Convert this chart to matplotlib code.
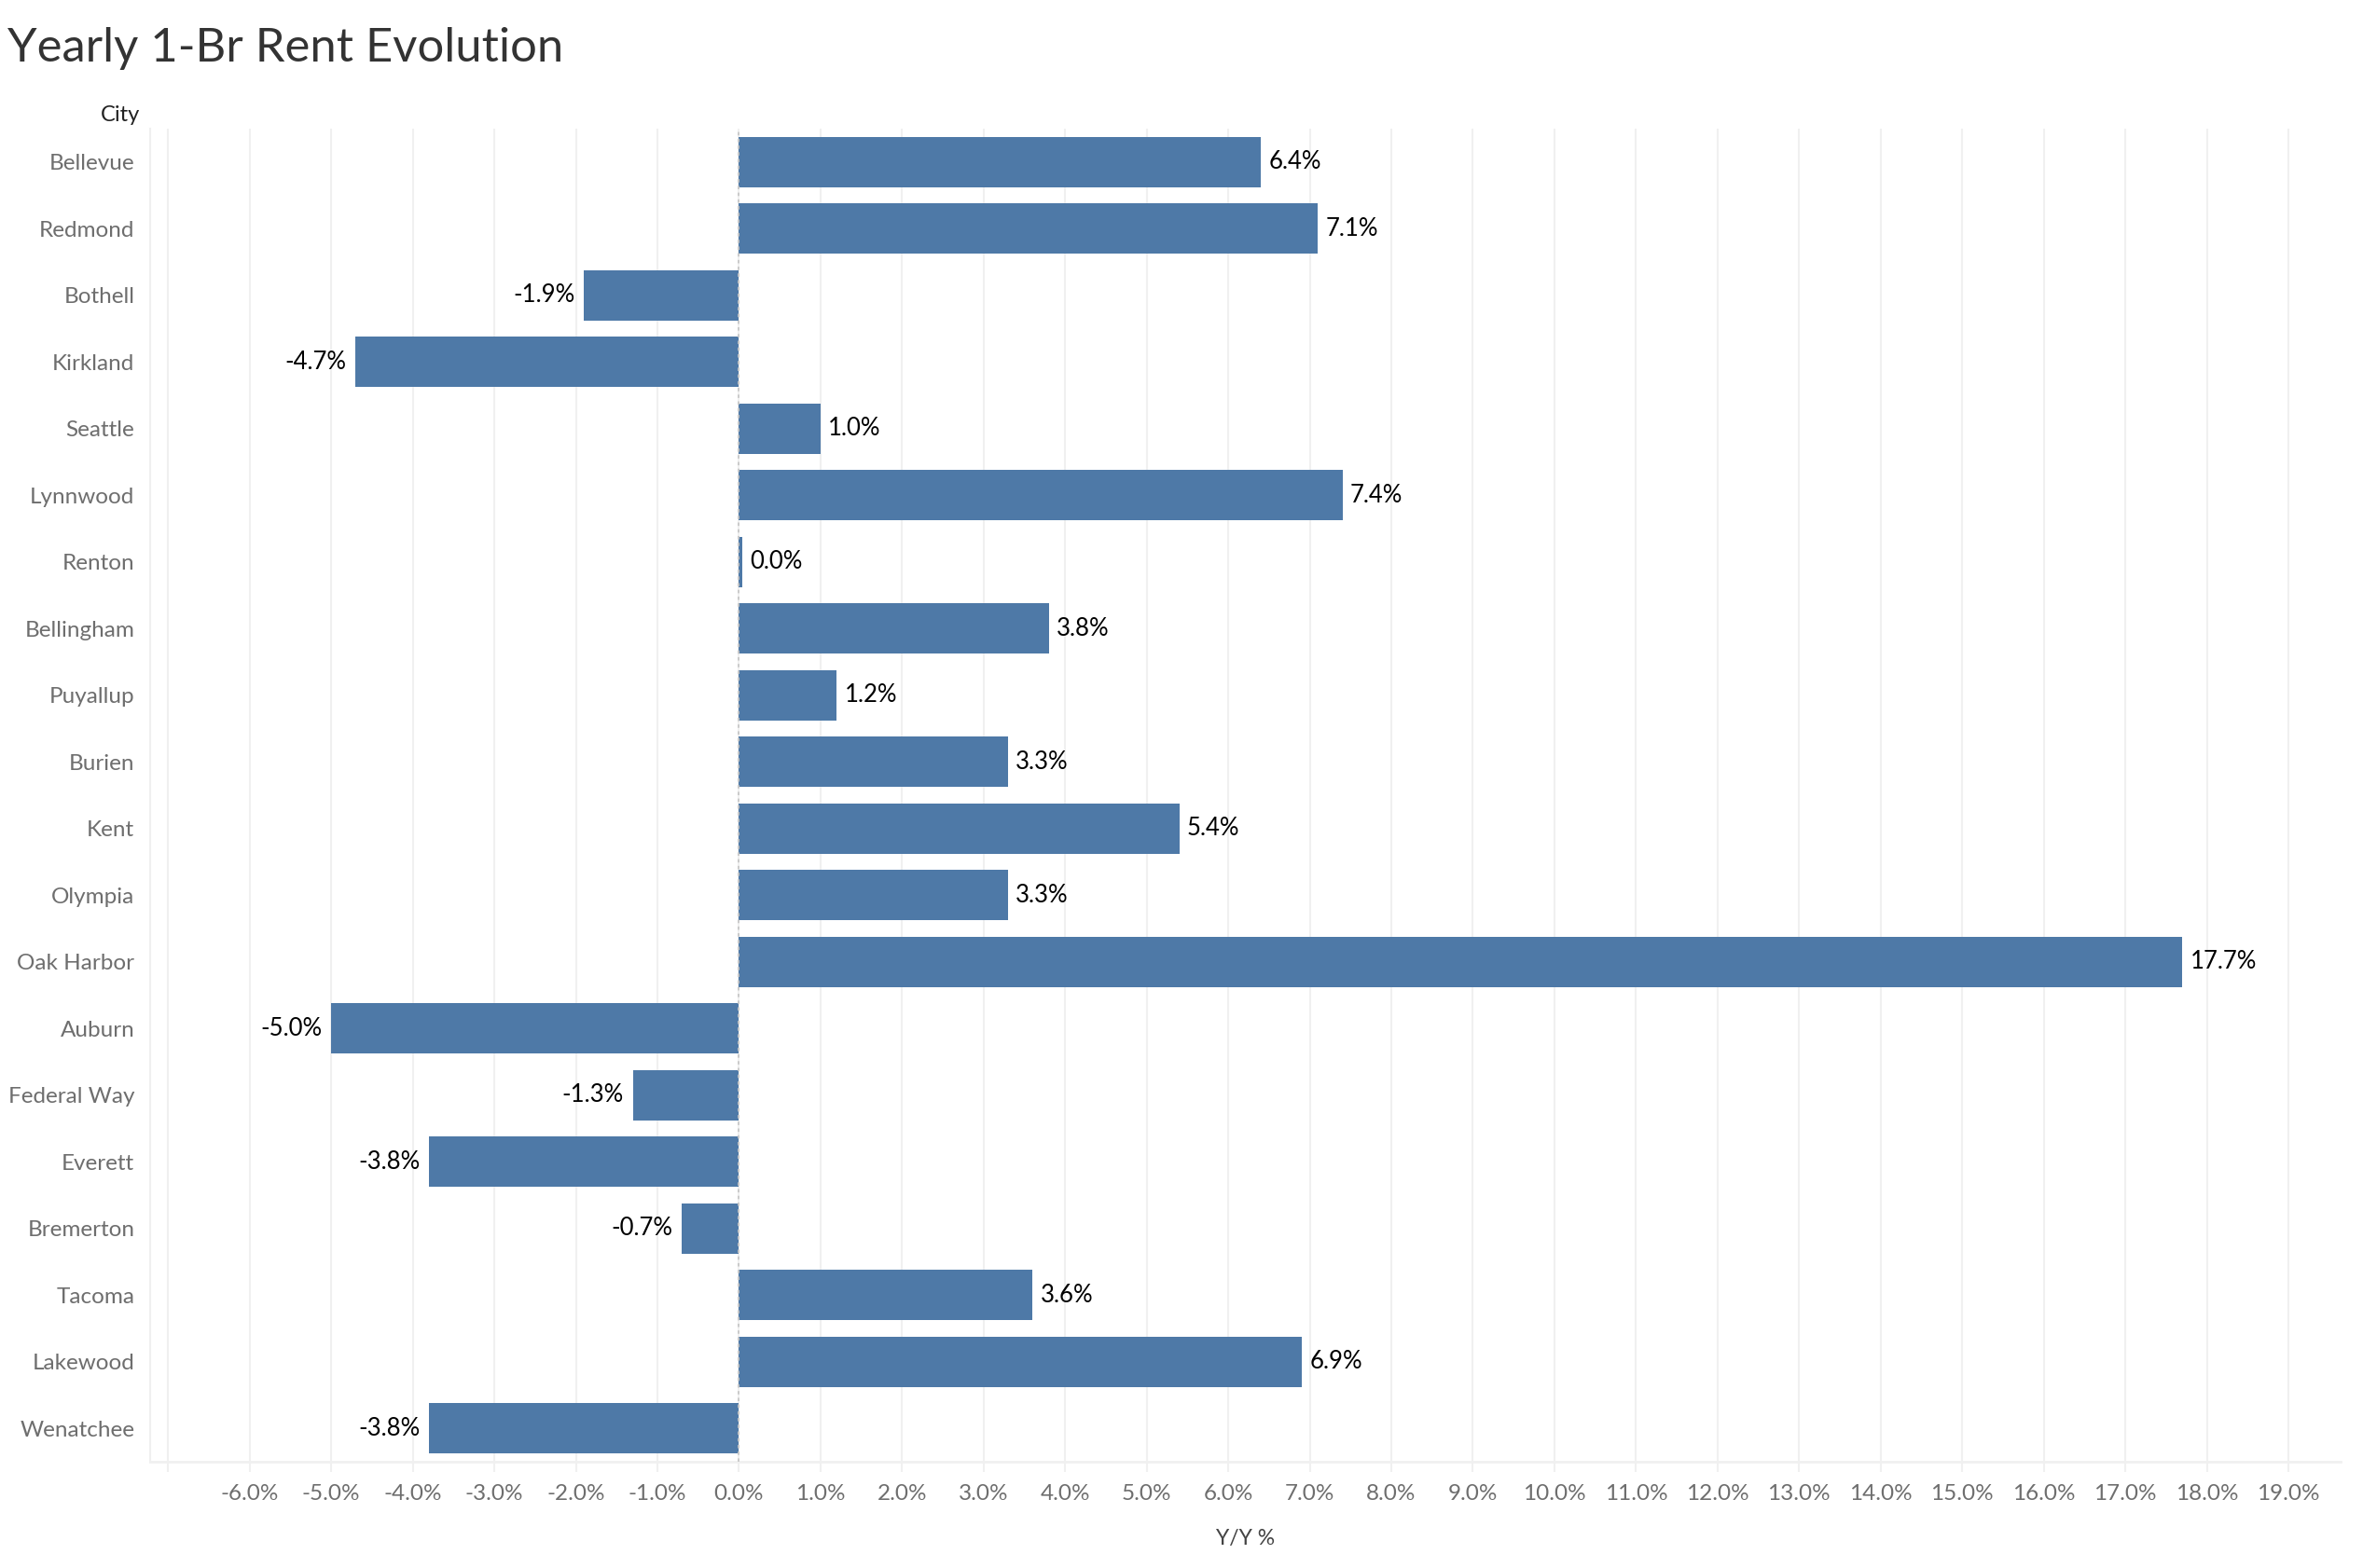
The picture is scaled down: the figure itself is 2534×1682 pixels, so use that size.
import matplotlib as mpl
mpl.use('Agg')
import matplotlib.pyplot as plt
import numpy as np

# Data
cities = ['Bellevue', 'Redmond', 'Bothell', 'Kirkland', 'Seattle', 'Lynnwood',
          'Renton', 'Bellingham', 'Puyallup', 'Burien', 'Kent', 'Olympia',
          'Oak Harbor', 'Auburn', 'Federal Way', 'Everett', 'Bremerton',
          'Tacoma', 'Lakewood', 'Wenatchee']
yoy = [6.4, 7.1, -1.9, -4.7, 1.0, 7.4, 0.04, 3.8, 1.2, 3.3, 5.4, 3.3, 17.7,
       -5.0, -1.3, -3.8, -0.7, 3.6, 6.9, -3.8]
xticks = list(range(-6, 20))

plt.rcParams['font.family'] = ['Lato', 'DejaVu Sans']

W, H = 2534, 1682
fig = plt.figure(figsize=(W / 100., H / 100.), dpi=100)
ax = fig.add_axes([161. / W, 1 - 1568. / H, (2510. - 161.) / W, (1568. - 138.) / H])

y = np.arange(len(cities))
ax.barh(y, yoy, height=0.75, color='#4e79a7', zorder=3)

# value labels
for yi, v in zip(y, yoy):
    txt = '%.1f%%' % v
    if v >= 0:
        ax.annotate(txt, (v, yi), xytext=(6, 0), textcoords='offset points',
                    ha='left', va='center', fontsize=18.5, color='black')
    else:
        ax.annotate(txt, (v, yi), xytext=(-7, 0), textcoords='offset points',
                    ha='right', va='center', fontsize=18.5, color='black')

ax.set_xlim(-7.22, 19.64)
ax.set_ylim(len(cities) - 0.5, -0.5)

# grid
for g in range(-7, 20):
    ax.axvline(g, color='#f0f0f0', lw=1.5, zorder=0)
ax.axvline(0, color='#c8c8c8', lw=1.3, ls=(0, (2, 2)), zorder=4)

ax.set_xticks(range(-7, 20))
ax.set_xticklabels([''] + ['%.1f%%' % t for t in xticks])
ax.set_yticks(y)
ax.set_yticklabels(cities)
ax.tick_params(axis='x', colors='#f0f0f0', labelcolor='#6e6e6e', labelsize=17.5,
               length=8, width=1.5, pad=9)
ax.tick_params(axis='y', length=0, labelcolor='#6e6e6e', labelsize=17.5, pad=12)

for s in ['top', 'right']:
    ax.spines[s].set_visible(False)
ax.spines['bottom'].set_color('#f0f0f0')
ax.spines['bottom'].set_linewidth(2)
ax.spines['left'].set_color('#f0f0f0')
ax.spines['left'].set_linewidth(1.5)

ax.set_xlabel('Y/Y %', fontsize=16.5, color='#444444', labelpad=20)

fig.text(150. / W, 1 - 123. / H, 'City', ha='right', va='center', fontsize=17, color='#222222')
fig.text(8. / W, 1 - 52. / H, 'Yearly 1-Br Rent Evolution', ha='left', va='center',
         fontsize=36.5, color='#333333')

fig.savefig('out.png', dpi=100)
